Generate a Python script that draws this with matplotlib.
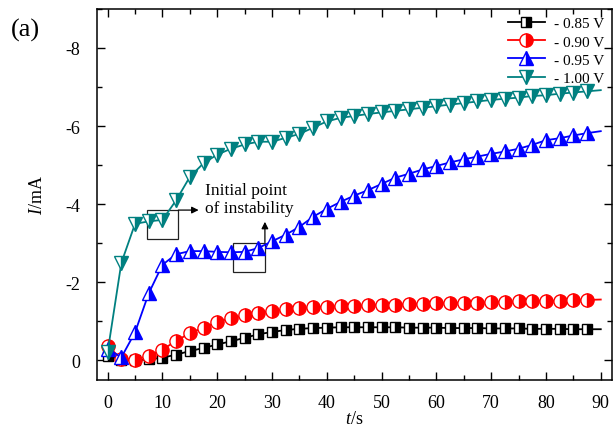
import numpy as np
import matplotlib
matplotlib.use("Agg")
import matplotlib.pyplot as plt
from matplotlib.patches import Rectangle
from matplotlib.ticker import MultipleLocator

plt.rcParams['font.family'] = ['Liberation Serif', 'DejaVu Serif']
plt.rcParams['mathtext.fontset'] = 'custom'
plt.rcParams['mathtext.rm'] = 'Liberation Serif'
plt.rcParams['mathtext.it'] = 'Liberation Serif:italic'
plt.rcParams['axes.unicode_minus'] = False

# time axis (s), one point every 2.5 s
t = [i * 2.5 for i in range(37)]

# current (mA) for each potential
i_085 = [-0.12, -0.02, 0.00, -0.03, -0.07, -0.15, -0.24, -0.32, -0.41, -0.49,
         -0.58, -0.67, -0.73, -0.78, -0.81, -0.83, -0.84, -0.85, -0.85, -0.85,
         -0.85, -0.85, -0.84, -0.84, -0.84, -0.83, -0.83, -0.83, -0.82, -0.82,
         -0.82, -0.81, -0.81, -0.81, -0.80, -0.80, -0.80]
i_090 = [-0.38, -0.03, -0.02, -0.12, -0.28, -0.50, -0.70, -0.84, -0.99, -1.08,
         -1.16, -1.22, -1.27, -1.31, -1.34, -1.36, -1.38, -1.39, -1.40, -1.41,
         -1.42, -1.43, -1.44, -1.45, -1.46, -1.47, -1.48, -1.48, -1.49, -1.50,
         -1.51, -1.52, -1.52, -1.53, -1.54, -1.55, -1.56]
i_095 = [-0.30, -0.08, -0.72, -1.72, -2.45, -2.72, -2.80, -2.80, -2.78, -2.77,
         -2.78, -2.88, -3.05, -3.22, -3.42, -3.68, -3.88, -4.06, -4.22, -4.36,
         -4.52, -4.68, -4.78, -4.89, -4.98, -5.07, -5.15, -5.22, -5.29, -5.35,
         -5.42, -5.52, -5.64, -5.69, -5.76, -5.82, -5.87]
i_100 = [-0.22, -2.50, -3.50, -3.56, -3.60, -4.10, -4.70, -5.05, -5.27, -5.42,
         -5.53, -5.60, -5.60, -5.70, -5.80, -5.96, -6.12, -6.21, -6.26, -6.31,
         -6.35, -6.39, -6.43, -6.47, -6.51, -6.55, -6.59, -6.63, -6.67, -6.70,
         -6.73, -6.77, -6.79, -6.83, -6.86, -6.89, -6.92]

labels = ['- 0.85 V', '- 0.90 V', '- 0.95 V', '- 1.00 V']
colors = ['black', '#ff0000', '#0000ff', '#008080']
markers = ['s', 'o', '^', 'v']
msizes = [7.5, 9.5, 10, 10]

fig = plt.figure(figsize=(6.14, 4.31), dpi=100)
ax = fig.add_axes([0.1575, 0.116, 0.8388, 0.861])

series = [i_085, i_090, i_095, i_100]
for y, lab, c, m, ms in zip(series, labels, colors, markers, msizes):
    ax.plot(t, y, color=c, lw=1.3, marker=m, ms=ms, markevery=slice(0, 36),
            fillstyle='right', markerfacecolor=c, markerfacecoloralt='white',
            markeredgecolor=c, markeredgewidth=1.0, label=lab)

ax.set_xlim(-2, 92)
ax.set_ylim(0.5, -9.0)
ax.xaxis.set_major_locator(MultipleLocator(10))
ax.xaxis.set_minor_locator(MultipleLocator(5))
ax.yaxis.set_minor_locator(MultipleLocator(1))
ax.set_yticks([0, -2, -4, -6, -8])
ax.tick_params(which='both', direction='in', top=True, right=True, width=1.0,
               labelsize=13)
ax.tick_params(which='major', length=6)
ax.tick_params(which='minor', length=3.5)
ax.tick_params(axis='x', which='major', pad=10)
ax.tick_params(axis='y', which='major', pad=12)
for s in ax.spines.values():
    s.set_linewidth(1.1)

ax.set_xlabel(r'$\mathit{t}$/s', fontsize=13, labelpad=-1)
ax.set_ylabel(r'$\mathit{I}$/mA', fontsize=13, labelpad=14)

# boxes marking the initial point of instability
ax.add_patch(Rectangle((7.1, -3.85), 5.8, 0.75, fill=False, ec='#222222', lw=0.9))
ax.add_patch(Rectangle((22.9, -3.02), 5.8, 0.75, fill=False, ec='#222222', lw=0.9))
ax.annotate('', xy=(16.6, -3.85), xytext=(12.9, -3.85),
            arrowprops=dict(arrowstyle='-|>', color='black', lw=0.9,
                            shrinkA=0, shrinkB=0, mutation_scale=10))
ax.annotate('', xy=(28.7, -3.55), xytext=(28.7, -3.02),
            arrowprops=dict(arrowstyle='-|>', color='black', lw=0.9,
                            shrinkA=0, shrinkB=0, mutation_scale=10))
ax.text(17.7, -4.14, 'Initial point\nof instability', fontsize=12.5,
        ha='left', va='center', linespacing=1.15)

ax.legend(loc='upper right', frameon=False, fontsize=11, handlelength=2.4,
          labelspacing=0.3, borderaxespad=0.1, handletextpad=0.6)

fig.text(0.018, 0.915, '(a)', fontsize=19)

fig.savefig('out.png', dpi=100)
